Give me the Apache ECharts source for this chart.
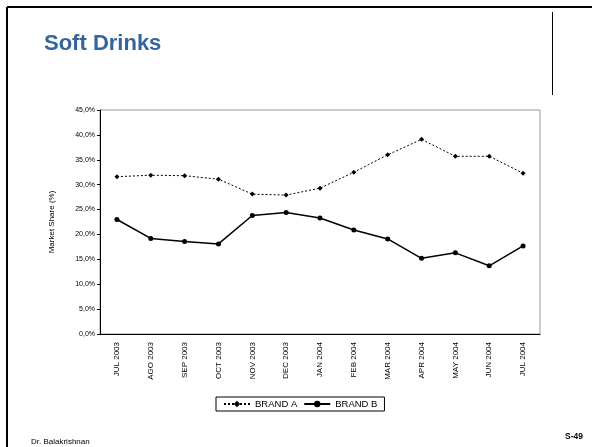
<!DOCTYPE html>
<html><head><meta charset="utf-8">
<script src="https://cdn.jsdelivr.net/npm/echarts@6/dist/echarts.min.js"></script>
<style>html,body{margin:0;padding:0;background:#fff}#c{width:592px;height:447px}</style>
</head><body><div id="c"></div>
<script>
const categories = ['JUL 2003','AGO 2003','SEP 2003','OCT 2003','NOV 2003','DEC 2003','JAN 2004','FEB 2004','MAR 2004','APR 2004','MAY 2004','JUN 2004','JUL 2004'];
const brandA = [31.6, 31.9, 31.8, 31.1, 28.1, 27.9, 29.3, 32.5, 36.0, 39.1, 35.7, 35.7, 32.3];
const brandB = [23.0, 19.2, 18.6, 18.1, 23.8, 24.4, 23.3, 20.9, 19.1, 15.2, 16.3, 13.7, 17.7];
const seriesNames = ['BRAND A', 'BRAND B'];
const titleText = 'Soft Drinks';
const yAxisName = 'Market Share (%)';
const footerLeft = 'Dr. Balakrishnan';
const footerRight = 'S-49';

const chart = echarts.init(document.getElementById('c'), null, {renderer: 'canvas'});
const F = 'Liberation Sans, Arial, sans-serif';
chart.setOption({
  animation: false,
  backgroundColor: '#fff',
  title: {
    text: titleText, left: 39, top: 28,
    textStyle: {fontFamily: F, fontSize: 22, fontWeight: 'bold', color: '#31659C'}
  },
  legend: {
    data: seriesNames,
    left: 216, top: 397, width: 171,
    padding: [2, 7, 2, 7],
    itemGap: 6, itemWidth: 26, itemHeight: 8,
    borderColor: '#000', borderWidth: 1,
    textStyle: {fontFamily: F, fontSize: 9.5, color: '#000'}
  },
  grid: {left: 100, right: 52, top: 110, bottom: 113, containLabel: false,
    show: true, borderColor: '#999', borderWidth: 1},
  xAxis: {
    type: 'category', data: categories, boundaryGap: true,
    axisLine: {lineStyle: {color: '#000', width: 1}},
    axisTick: {show: false},
    axisLabel: {rotate: 90, fontFamily: F, fontSize: 8, color: '#000', margin: 8, interval: 0}
  },
  yAxis: {
    type: 'value', min: 0, max: 45, interval: 5,
    name: yAxisName, nameLocation: 'middle', nameGap: 44,
    nameTextStyle: {fontFamily: F, fontSize: 8, color: '#000'},
    axisLine: {show: true, lineStyle: {color: '#000', width: 1}},
    axisTick: {show: true, inside: false, length: 3, lineStyle: {color: '#000'}},
    splitLine: {show: false},
    axisLabel: {fontFamily: F, fontSize: 7, color: '#000', margin: 5,
      formatter: v => v.toFixed(1).replace('.', ',') + '%'}
  },
  series: [
    {name: seriesNames[0], type: 'line', data: brandA,
     symbol: 'diamond', symbolSize: 5,
     itemStyle: {color: '#000'},
     lineStyle: {color: '#000', width: 1, type: [2, 2]}},
    {name: seriesNames[1], type: 'line', data: brandB,
     symbol: 'circle', symbolSize: 5,
     itemStyle: {color: '#000'},
     lineStyle: {color: '#000', width: 1.5, type: 'solid'}}
  ],
  graphic: [
    {type: 'line', shape: {x1: 7, y1: 7, x2: 592, y2: 7}, style: {stroke: '#000', lineWidth: 2}},
    {type: 'line', shape: {x1: 7, y1: 7, x2: 7, y2: 447}, style: {stroke: '#000', lineWidth: 2}},
    {type: 'line', shape: {x1: 552.5, y1: 12, x2: 552.5, y2: 95}, style: {stroke: '#000', lineWidth: 1}},
    {type: 'text', left: 31, top: 438, style: {text: footerLeft, font: '8px ' + F, fill: '#000'}},
    {type: 'text', left: 565, top: 432, style: {text: footerRight, font: 'bold 8.5px ' + F, fill: '#000'}}
  ]
});
</script></body></html>
